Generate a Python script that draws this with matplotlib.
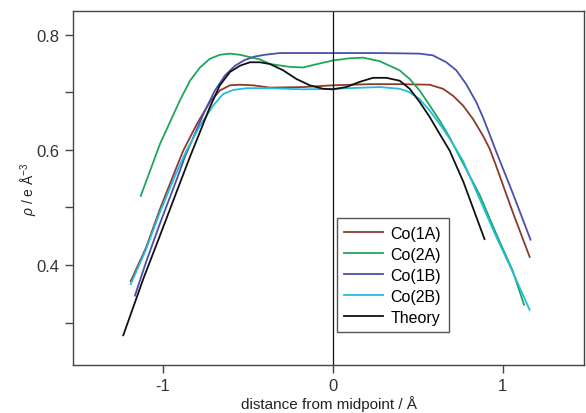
import numpy as np
import matplotlib.pyplot as plt

plt.rcParams['font.family'] = ['Liberation Sans', 'DejaVu Sans']
plt.rcParams['mathtext.fontset'] = 'custom'
plt.rcParams['mathtext.rm'] = 'Liberation Sans'
plt.rcParams['mathtext.it'] = 'Liberation Sans:italic'

# Co(1A)
x_1a = [-1.19, -1.10, -1.018, -0.92, -0.88, -0.80, -0.724, -0.665, -0.606, -0.547, -0.469, -0.37,
        -0.175, 0.0, 0.218, 0.4, 0.571, 0.649, 0.708, 0.767, 0.825, 0.884, 0.924, 0.96, 1.06, 1.16]
y_1a = [0.372, 0.43, 0.497, 0.570, 0.599, 0.645, 0.683, 0.703, 0.712, 0.713, 0.712, 0.708,
        0.709, 0.712, 0.714, 0.714, 0.713, 0.706, 0.694, 0.677, 0.654, 0.625, 0.602, 0.574, 0.492, 0.414]

# Co(2A)
x_2a = [-1.131, -1.018, -0.959, -0.9, -0.841, -0.782, -0.724, -0.665, -0.606, -0.547, -0.488,
        -0.429, -0.37, -0.253, -0.175, -0.076, 0.0, 0.1, 0.178, 0.276, 0.335, 0.394, 0.453,
        0.512, 0.571, 0.629, 0.688, 0.747, 0.865, 0.96, 1.06, 1.127]
y_2a = [0.520, 0.610, 0.648, 0.686, 0.720, 0.743, 0.758, 0.765, 0.767, 0.765, 0.761,
        0.757, 0.749, 0.744, 0.743, 0.750, 0.755, 0.759, 0.760, 0.754, 0.746, 0.738, 0.723,
        0.703, 0.677, 0.651, 0.622, 0.588, 0.522, 0.456, 0.390, 0.331]

# Co(1B)
x_1b = [-1.165, -1.10, -1.018, -0.92, -0.871, -0.812, -0.753, -0.694, -0.635, -0.576, -0.518,
        -0.459, -0.4, -0.312, 0.0, 0.276, 0.512, 0.59, 0.669, 0.728, 0.786, 0.845, 0.884,
        0.924, 0.96, 1.06, 1.165]
y_1b = [0.347, 0.405, 0.472, 0.548, 0.588, 0.628, 0.668, 0.703, 0.729, 0.746, 0.756,
        0.762, 0.765, 0.768, 0.768, 0.768, 0.767, 0.764, 0.752, 0.738, 0.714, 0.683, 0.657,
        0.627, 0.599, 0.525, 0.444]

# Co(2B)
x_2b = [-1.19, -1.10, -1.018, -0.92, -0.861, -0.782, -0.704, -0.645, -0.586, -0.508, -0.37,
        -0.175, 0.0, 0.276, 0.394, 0.453, 0.512, 0.571, 0.629, 0.688, 0.767, 0.865, 0.96,
        1.06, 1.16]
y_2b = [0.367, 0.427, 0.492, 0.561, 0.599, 0.642, 0.677, 0.697, 0.704, 0.707, 0.707,
        0.705, 0.706, 0.709, 0.706, 0.700, 0.688, 0.668, 0.645, 0.620, 0.581, 0.515, 0.451,
        0.388, 0.322]

# Theory
x_th = [-1.234, -1.116, -1.018, -0.92, -0.841, -0.782, -0.724, -0.665, -0.606, -0.547, -0.488,
        -0.429, -0.37, -0.292, -0.214, -0.135, -0.057, 0.0, 0.08, 0.159, 0.237, 0.316, 0.394,
        0.453, 0.512, 0.571, 0.629, 0.688, 0.77, 0.85, 0.894]
y_th = [0.278, 0.376, 0.451, 0.527, 0.588, 0.631, 0.674, 0.712, 0.735, 0.746, 0.752,
        0.752, 0.749, 0.738, 0.723, 0.712, 0.706, 0.705, 0.709, 0.718, 0.725, 0.725, 0.720,
        0.706, 0.683, 0.657, 0.628, 0.599, 0.544, 0.480, 0.445]

fig = plt.figure(figsize=(5.86, 4.14), dpi=100)
ax = fig.add_axes([0.1246, 0.116, 0.872, 0.855])

lw = 1.3
ax.plot(x_1a, y_1a, color='#8c3b2b', lw=lw, label='Co(1A)')
ax.plot(x_2a, y_2a, color='#1fa65a', lw=lw, label='Co(2A)')
ax.plot(x_1b, y_1b, color='#4a4fb0', lw=lw, label='Co(1B)')
ax.plot(x_2b, y_2b, color='#22bce0', lw=lw, label='Co(2B)')
ax.plot(x_th, y_th, color='#111111', lw=lw, label='Theory')
ax.axvline(0, color='#111111', lw=0.9)

ax.set_xlim(-1.53, 1.48)
ax.set_ylim(0.2265, 0.841)
ax.set_xticks([-1, 0, 1])
ax.set_xticklabels(['-1', '0', '1'])
ax.set_yticks([0.4, 0.6, 0.8])
ax.set_yticks([0.3, 0.5, 0.7], minor=True)
ax.tick_params(which='both', direction='out', length=6, width=1, color='#444444',
               labelsize=12, labelcolor='#333333')
for s in ax.spines.values():
    s.set_color('#444444')
    s.set_linewidth(1)

ax.set_xlabel('distance from midpoint / Å', fontsize=11, color='#222222', labelpad=1)
ax.set_ylabel(r'$\rho$ / e Å$^{-3}$', fontsize=10, color='#222222', labelpad=-2)

leg = ax.legend(loc='lower left', bbox_to_anchor=(0.517, 0.093), borderaxespad=0,
                fontsize=11.5, handlelength=2.4, fancybox=False, edgecolor='#555555',
                framealpha=1, labelspacing=0.38, borderpad=0.45, handletextpad=0.5)
leg.get_frame().set_linewidth(1)

fig.savefig('out.png', dpi=100)
